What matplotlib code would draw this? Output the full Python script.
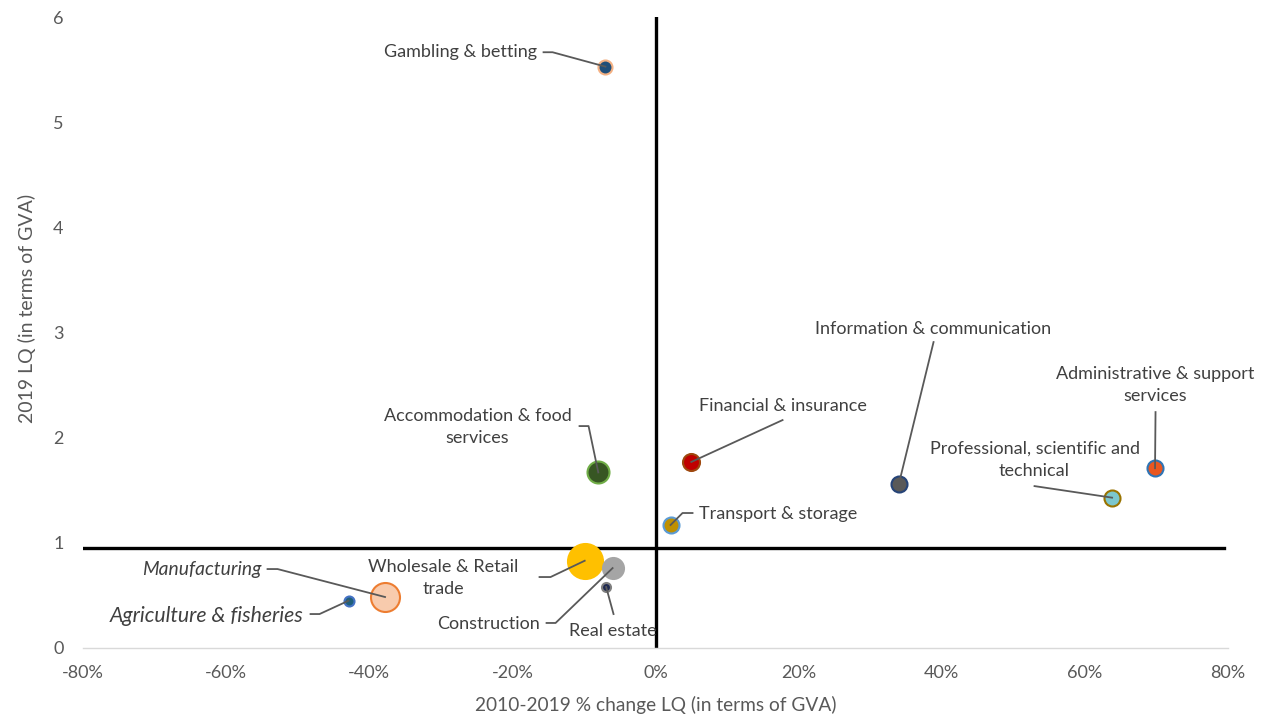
import matplotlib
matplotlib.use("Agg")
import matplotlib.pyplot as plt
from matplotlib.ticker import FuncFormatter

plt.rcParams["font.family"] = ["Lato", "DejaVu Sans"]

# sectors: % change in LQ 2010-2019, 2019 LQ, bubble diameter (px)
sectors = ["Gambling & betting", "Accommodation & food\nservices", "Wholesale & Retail\ntrade",
           "Construction", "Real estate", "Manufacturing", "Agriculture & fisheries",
           "Transport & storage", "Financial & insurance", "Information & communication",
           "Professional, scientific and\ntechnical", "Administrative & support\nservices"]
pct_change = [-7.0, -8.0, -9.9, -6.0, -6.9, -37.8, -42.9, 2.1, 5.0, 34.0, 63.8, 69.8]
lq_2019 = [5.53, 1.67, 0.83, 0.76, 0.58, 0.485, 0.45, 1.17, 1.77, 1.56, 1.43, 1.71]
bubble = [14, 22, 35, 21, 9, 29, 10, 16, 17, 16, 16, 16]
LQ_LINE = 0.95

faces = ["#1F4E79", "#375623", "#FFC000", "#A5A5A5", "#1F2A50", "#F8CBAD", "#1F5F7A",
         "#BF9000", "#C00000", "#595959", "#7CC7CD", "#E9571F"]
edges = ["#F4B183", "#70AD47", "#FFC000", "#A5A5A5", "#7F7F7F", "#ED7D31", "#4472C4",
         "#5B9BD5", "#9E480E", "#264478", "#997300", "#2E75B6"]

# label anchor (data coords) + leader-line path from label to bubble
labels = [
    dict(xy=(-27.25, 5.667), ha="center", path=[(-15.65, 5.667), (-14.39, 5.667)]),
    dict(xy=(-24.87, 2.10), ha="center", path=[(-10.62, 2.111), (-9.36, 2.111)]),
    dict(xy=(-29.63, 0.666), ha="center", path=[(-16.21, 0.675), (-14.67, 0.675)]),
    dict(xy=(-23.34, 0.228), ha="center", path=[(-15.23, 0.238), (-13.97, 0.238)]),
    dict(xy=(-6.01, 0.162), ha="center", path=[(-5.87, 0.323)]),
    dict(xy=(-63.44, 0.742), ha="center", path=[(-54.22, 0.751), (-52.82, 0.751)], italic=True, size=13.9),
    dict(xy=(-62.74, 0.305), ha="center", path=[(-48.21, 0.323), (-46.95, 0.323)], italic=True, size=15.3),
    dict(xy=(6.01, 1.274), ha="left", path=[(5.17, 1.284), (3.77, 1.284)]),
    dict(xy=(17.75, 2.301), ha="center", path=[(17.75, 2.168)]),
    dict(xy=(38.85, 3.033), ha="center", path=[(38.85, 2.91)]),
    dict(xy=(52.96, 1.788), ha="center", path=[(52.96, 1.54)]),
    dict(xy=(69.87, 2.50), ha="center", path=[(69.87, 2.244)]),
]

TXT = "#404040"
fig = plt.figure(figsize=(12.66, 7.18), dpi=100)
ax = fig.add_axes([0.0656, 0.0975, 0.9044, 0.8785])

# quadrant lines
ax.plot([-80.4, 79.5], [LQ_LINE, LQ_LINE], color="black", lw=2.4, zorder=2)
ax.plot([0, 0], [0, 6], color="black", lw=2.4, zorder=2)

for i, name in enumerate(sectors):
    d = bubble[i] * 0.72
    ax.scatter(pct_change[i], lq_2019[i], s=d * d, color=faces[i], edgecolor=edges[i],
               linewidth=1.5, zorder=4)
    lab = labels[i]
    xs = [p[0] for p in lab["path"]] + [pct_change[i]]
    ys = [p[1] for p in lab["path"]] + [lq_2019[i]]
    ax.plot(xs, ys, color="#595959", lw=1.3, zorder=5)
    ax.text(lab["xy"][0], lab["xy"][1], name, ha=lab["ha"], va="center", color=TXT,
            fontsize=lab.get("size", 13), style="italic" if lab.get("italic") else "normal",
            linespacing=1.47, zorder=6)

ax.set_xlim(-80, 80)
ax.set_ylim(0, 6)
ax.set_xticks(range(-80, 81, 20))
ax.set_yticks(range(0, 7))
ax.xaxis.set_major_formatter(FuncFormatter(lambda v, _: f"{v:.0f}%"))
ax.tick_params(length=0, labelsize=13, labelcolor="#595959")
ax.tick_params(axis="x", pad=12)
ax.tick_params(axis="y", pad=14)
for s in ("top", "right", "left"):
    ax.spines[s].set_visible(False)
ax.spines["bottom"].set_color("#D9D9D9")
ax.spines["bottom"].set_linewidth(1.0)

fig.text(0.518, 0.018, "2010-2019 % change LQ (in terms of GVA)", ha="center", va="center",
         fontsize=13.8, color="#595959")
fig.text(0.021, 0.571, "2019 LQ (in terms of GVA)", ha="center", va="center", rotation=90,
         fontsize=14, color="#595959")

fig.savefig("out.png", dpi=100)
